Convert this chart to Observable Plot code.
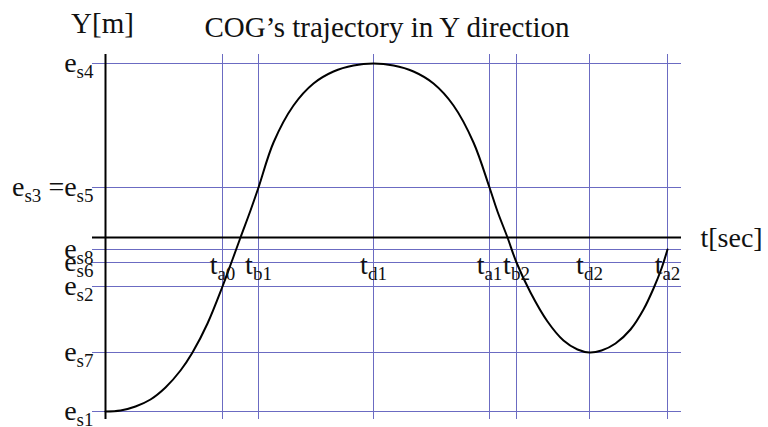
<!DOCTYPE html>
<html>
<head>
<meta charset="utf-8">
<script src="https://cdn.jsdelivr.net/npm/d3@7"></script>
<script src="https://cdn.jsdelivr.net/npm/@observablehq/plot@0.6"></script>
<style>
  html, body { margin: 0; padding: 0; background: #ffffff; }
</style>
</head>
<body>
<div id="chart"></div>
<script>
// Time instants (arbitrary units) and their subscript names
const tNames = ["a0", "b1", "d1", "a1", "b2", "d2", "a2"];
const tValues = [1.17, 1.53, 2.68, 3.84, 4.11, 4.84, 5.62];

// Lateral COG levels e_s1 .. e_s8
const esNames = ["s1", "s2", "s3", "s4", "s5", "s6", "s7", "s8"];
const esValues = [-1.74, -0.49, 0.50, 1.74, 0.50, -0.25, -1.15, -0.12];

// Y-axis tick labels ("_" marks a subscript) and their levels
const yTickLabels = ["e_s4", "e_s3 =e_s5", "e_s8", "e_s6", "e_s2", "e_s7", "e_s1"];
const yTickValues = [1.74, 0.50, -0.12, -0.25, -0.49, -1.15, -1.74];

// COG trajectory in Y direction
const curveT = [0.00, 0.15, 0.30, 0.45, 0.60, 0.75, 0.87, 1.02, 1.17, 1.27, 1.35, 1.45, 1.53,
  1.68, 1.88, 2.08, 2.28, 2.48, 2.68, 2.88, 3.08, 3.28, 3.48, 3.68, 3.84,
  3.92, 4.02, 4.11, 4.25, 4.42, 4.58, 4.72, 4.84, 4.96, 5.10, 5.25, 5.38, 5.48, 5.56, 5.62];
const curveY = [-1.74, -1.73, -1.69, -1.62, -1.50, -1.33, -1.15, -0.86, -0.49, -0.22, 0.00, 0.27, 0.50,
  0.95, 1.32, 1.54, 1.66, 1.72, 1.74, 1.72, 1.66, 1.54, 1.32, 0.95, 0.50,
  0.26, 0.00, -0.25, -0.55, -0.84, -1.03, -1.12, -1.15, -1.13, -1.06, -0.92, -0.72, -0.51, -0.31, -0.12];

const titleText = "COG’s trajectory in Y direction";
const yAxisName = "Y[m]";
const tAxisName = "t[sec]";

const curve = curveT.map((t, i) => ({t, y: curveY[i]}));
const tTicks = tNames.map((n, i) => ({label: "t_" + n, t: tValues[i]}));
const yTicks = yTickLabels.map((label, i) => ({label, y: yTickValues[i]}));

const grid = "#6b6bc2";
const font = 28;

const svg = Plot.plot({
  width: 768,
  height: 427,
  marginLeft: 92,
  marginRight: 87,
  marginTop: 54,
  marginBottom: 8,
  x: {domain: [-0.13, 5.76], axis: null},
  y: {domain: [-1.82, 1.83], axis: null},
  style: {fontFamily: "'Liberation Serif', 'Times New Roman', serif", background: "#ffffff", color: "#111"},
  marks: [
    // grid of characteristic instants and levels
    Plot.ruleX(tValues, {stroke: grid, strokeWidth: 1}),
    Plot.ruleY(esValues, {stroke: grid, strokeWidth: 1}),
    // axes
    Plot.ruleX([0], {stroke: "#000", strokeWidth: 2}),
    Plot.ruleY([0], {stroke: "#000", strokeWidth: 2}),
    // trajectory
    Plot.line(curve, {x: "t", y: "y", curve: "catmull-rom", stroke: "#000", strokeWidth: 2}),
    // level labels
    Plot.text(yTicks, {y: "y", text: "label", frameAnchor: "left", textAnchor: "end",
      lineAnchor: "bottom", dx: 1, dy: 8, fontSize: font, fill: "#111"}),
    // instant labels under the time axis
    Plot.text(tTicks, {x: "t", y: () => 0, text: "label", textAnchor: "middle",
      lineAnchor: "bottom", dy: 36, fontSize: font, fill: "#111"}),
    // axis names and title
    Plot.text([tAxisName], {y: () => 0, frameAnchor: "right", textAnchor: "start",
      lineAnchor: "bottom", dx: 19, dy: 9.5, fontSize: font, fill: "#111"}),
    Plot.text([yAxisName], {x: () => 0, frameAnchor: "top", textAnchor: "middle",
      lineAnchor: "bottom", dx: -3, dy: -22, fontSize: 29, fill: "#111"}),
    Plot.text([titleText], {frameAnchor: "top", textAnchor: "middle",
      lineAnchor: "bottom", dy: -17.5, fontSize: 29, fill: "#111"})
  ]
});

// Turn "_xx" fragments of labels into lowered, smaller subscripts
d3.select(svg).selectAll("text").each(function () {
  const s = this.textContent;
  if (!s.includes("_")) return;
  const node = d3.select(this);
  node.text(null);
  let lowered = false;
  for (const part of s.split(/(_\w+)/)) {
    if (!part) continue;
    if (part.startsWith("_")) {
      node.append("tspan").attr("font-size", 19).attr("dy", lowered ? null : 6).text(part.slice(1));
      lowered = true;
    } else {
      const ts = node.append("tspan").text(part);
      if (lowered) ts.attr("dy", -6);
      lowered = false;
    }
  }
});

document.getElementById("chart").appendChild(svg);
</script>
</body>
</html>
